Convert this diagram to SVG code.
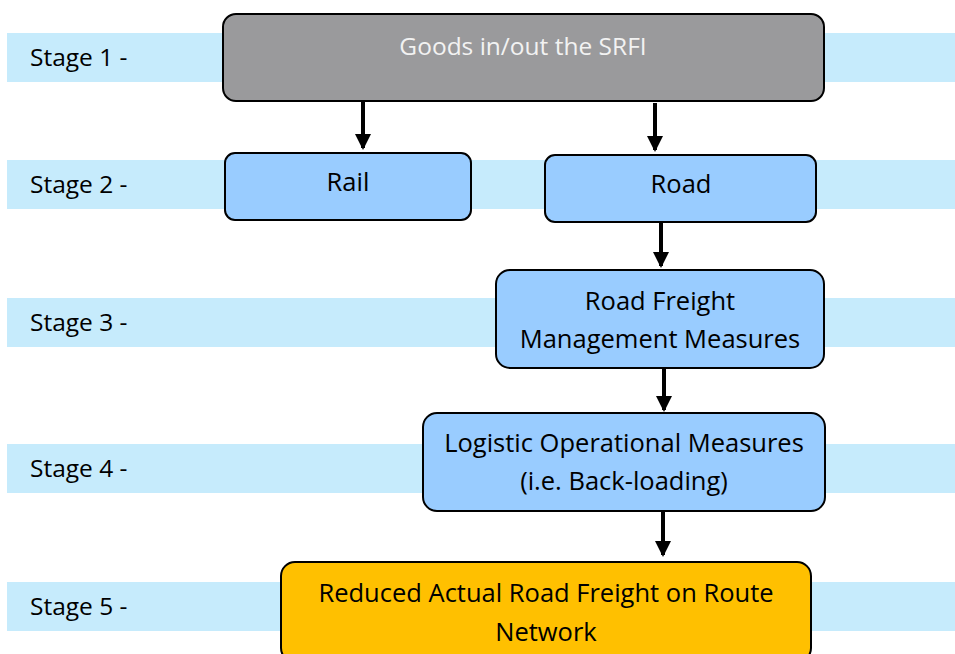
<svg xmlns="http://www.w3.org/2000/svg" width="955" height="654" viewBox="0 0 955 654">
<style>
.band{fill:#C6EBFC}
.lbl{font-family:"Open Sans","Liberation Sans",sans-serif;font-size:24.5px;fill:#000}
.node{stroke:#000;stroke-width:2}
.blue{fill:#99CCFF}
.t{font-family:"Open Sans","Liberation Sans",sans-serif;font-size:25.5px;fill:#000;text-anchor:middle}
.conn{stroke:#000;stroke-width:4;fill:none}
</style>
<defs>
<marker id="ah" markerWidth="4" markerHeight="4" refX="3.5" refY="2" orient="auto" markerUnits="strokeWidth">
<path d="M0,0 L4,2 L0,4 Z" fill="#000"/>
</marker>
</defs>
<rect width="955" height="654" fill="#fff"/>
<g id="bands">
<rect class="band" x="7" y="33" width="948" height="49"/>
<rect class="band" x="7" y="160" width="948" height="49"/>
<rect class="band" x="7" y="298" width="948" height="49"/>
<rect class="band" x="7" y="444" width="948" height="49"/>
<rect class="band" x="7" y="582" width="948" height="49"/>
<text class="lbl" x="30" y="66">Stage 1 -</text>
<text class="lbl" x="30" y="193">Stage 2 -</text>
<text class="lbl" x="30" y="331">Stage 3 -</text>
<text class="lbl" x="30" y="477">Stage 4 -</text>
<text class="lbl" x="30" y="615">Stage 5 -</text>
</g>
<g id="n1">
<rect class="node" x="223" y="14" width="601" height="87" rx="13" fill="#9A9A9C"/>
<text class="t" x="523" y="55" style="fill:#F2F2F2;font-size:24.5px">Goods in/out the SRFI</text>
</g>
<g id="n2">
<rect class="node blue" x="225" y="153" width="246" height="67" rx="10"/>
<text class="t" x="348" y="191">Rail</text>
</g>
<g id="n3">
<rect class="node blue" x="545" y="155" width="271" height="67" rx="10"/>
<text class="t" x="681" y="193">Road</text>
</g>
<g id="n4">
<rect class="node blue" x="496" y="270" width="328" height="98" rx="14"/>
<text class="t" x="660" y="310">Road Freight</text>
<text class="t" x="660" y="348">Management Measures</text>
</g>
<g id="n5">
<rect class="node blue" x="423" y="413" width="402" height="98" rx="14"/>
<text class="t" x="624" y="452">Logistic Operational Measures</text>
<text class="t" x="624" y="490">(i.e. Back-loading)</text>
</g>
<g id="n6">
<rect class="node" x="281" y="562" width="530" height="100" rx="14" fill="#FFC000"/>
<text class="t" x="546" y="602">Reduced Actual Road Freight on Route</text>
<text class="t" x="546" y="641">Network</text>
</g>
<g id="connectors">
<line class="conn" x1="363" y1="102" x2="363" y2="148" marker-end="url(#ah)"/>
<line class="conn" x1="655" y1="103" x2="655" y2="150" marker-end="url(#ah)"/>
<line class="conn" x1="661" y1="223" x2="661" y2="266" marker-end="url(#ah)"/>
<line class="conn" x1="664" y1="369" x2="664" y2="410" marker-end="url(#ah)"/>
<line class="conn" x1="663" y1="511" x2="663" y2="555" marker-end="url(#ah)"/>
</g>
</svg>
